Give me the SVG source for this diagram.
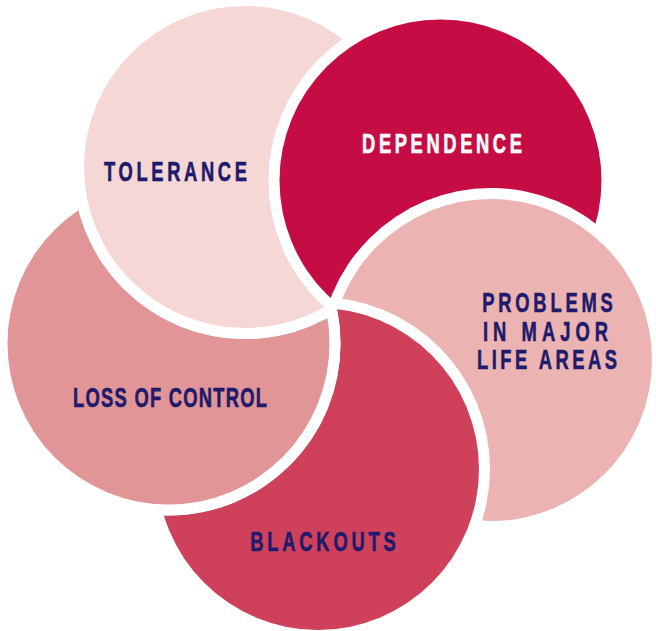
<svg xmlns="http://www.w3.org/2000/svg" width="656" height="631" viewBox="0 0 656 631">
<style>
.c{stroke:#fff;stroke-width:22;paint-order:stroke}
.t{font-family:"Liberation Sans",Arial,sans-serif;font-weight:bold;font-size:27px;fill:#1f1a6b;stroke:#1f1a6b;stroke-width:0.6;text-anchor:middle}
.w{fill:#fff;stroke:#fff}
</style>
<defs>
<mask id="mT" maskUnits="userSpaceOnUse" x="0" y="0" width="656" height="631"><rect width="656" height="631" fill="#fff"/><circle cx="440.5" cy="180.5" r="172" fill="#000"/></mask>
<mask id="mD" maskUnits="userSpaceOnUse" x="0" y="0" width="656" height="631"><rect width="656" height="631" fill="#fff"/><circle cx="491" cy="360" r="172" fill="#000"/></mask>
<mask id="mP" maskUnits="userSpaceOnUse" x="0" y="0" width="656" height="631"><rect width="656" height="631" fill="#fff"/><circle cx="318" cy="469" r="172" fill="#000"/></mask>
<mask id="mB" maskUnits="userSpaceOnUse" x="0" y="0" width="656" height="631"><rect width="656" height="631" fill="#fff"/><circle cx="168.5" cy="343.5" r="172" fill="#000"/></mask>
<mask id="mL" maskUnits="userSpaceOnUse" x="0" y="0" width="656" height="631"><rect width="656" height="631" fill="#fff"/><circle cx="245" cy="167" r="172" fill="#000"/></mask>
</defs>
<rect width="656" height="631" fill="#fff"/>
<g id="connectors"/>
<g id="blackouts">
<circle class="c" cx="318" cy="469" r="161" fill="#cf415a" mask="url(#mB)"/>
<text class="t" transform="translate(323,551) scale(0.68,1)" textLength="214" lengthAdjust="spacing">BLACKOUTS</text>
</g>
<g id="loss-of-control">
<circle class="c" cx="168.5" cy="343.5" r="161" fill="#e29596" mask="url(#mL)"/>
<text class="t" transform="translate(170,407) scale(0.68,1)" textLength="285" lengthAdjust="spacing">LOSS OF CONTROL</text>
</g>
<g id="problems">
<circle class="c" cx="491" cy="360" r="161" fill="#ebb4b2" mask="url(#mP)"/>
<text class="t" transform="translate(547.5,312) scale(0.68,1)" textLength="192" lengthAdjust="spacing">PROBLEMS</text>
<text class="t" transform="translate(545.5,341) scale(0.68,1)" textLength="184" lengthAdjust="spacing">IN MAJOR</text>
<text class="t" transform="translate(547,369) scale(0.68,1)" textLength="206" lengthAdjust="spacing">LIFE AREAS</text>
</g>
<g id="dependence">
<circle class="c" cx="440.5" cy="180.5" r="161" fill="#c50c45" mask="url(#mD)"/>
<text class="t w" transform="translate(442,153) scale(0.68,1)" textLength="235" lengthAdjust="spacing">DEPENDENCE</text>
</g>
<g id="tolerance">
<circle class="c" cx="245" cy="167" r="161" fill="#f5d7d6" mask="url(#mT)"/>
<text class="t" transform="translate(175.5,181) scale(0.68,1)" textLength="210" lengthAdjust="spacing">TOLERANCE</text>
</g>
</svg>
